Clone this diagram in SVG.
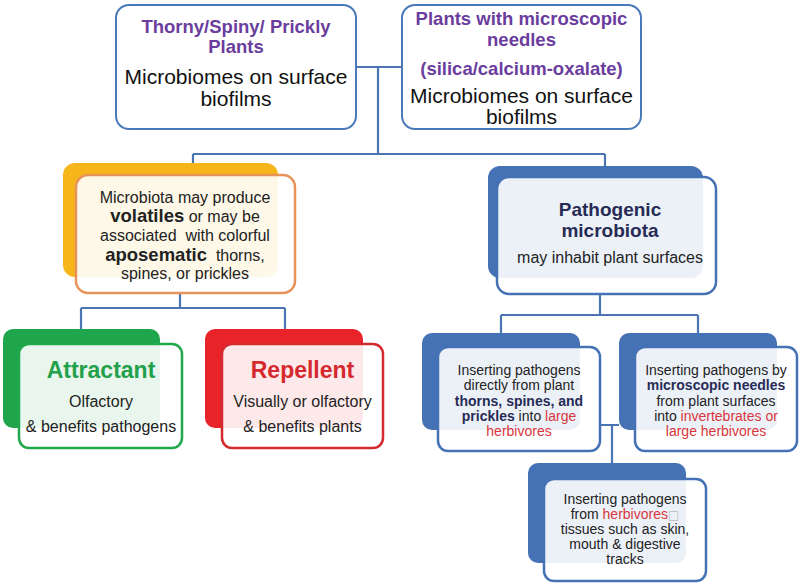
<svg xmlns="http://www.w3.org/2000/svg" width="800" height="583" viewBox="0 0 800 583">
<style>
text{font-family:"Liberation Sans",Arial,sans-serif;text-anchor:middle;fill:#222}
.top{fill:#fff;stroke:#4a78b8;stroke-width:2}
.front{fill:#fff;fill-opacity:0.9;stroke-width:2.5}
.conn{fill:none;stroke:#4a74b2;stroke-width:2.2}
.pur{font-weight:bold;font-size:18.5px;fill:#6a3d9e}
.big{font-size:21px;fill:#111}
.t16{font-size:16px}
.t14{font-size:14px}
.b{font-weight:bold}
.navy{font-weight:bold;fill:#272b55}
.red{fill:#d9363c}
</style>
<rect width="800" height="583" fill="#fff"/>
<g id="connectors" class="conn">
<path d="M356 67H402M378 67V154M193 154H605M193 154V163M605 154V166"/>
<path d="M180 293V308M81 308H285M81 308V329M285 308V329"/>
<path d="M600 294V315M501 315H698M501 315V333M698 315V333"/>
<path d="M600 425H619M612 425V463"/>
</g>
<g id="thorny">
<rect class="top" x="116" y="5" width="240" height="124" rx="13"/>
<text class="pur" x="236" y="33">Thorny/Spiny/ Prickly</text>
<text class="pur" x="236" y="53">Plants</text>
<text class="big" x="236" y="84">Microbiomes on surface</text>
<text class="big" x="236" y="106">biofilms</text>
</g>
<g id="needles">
<rect class="top" x="402" y="5" width="239" height="124" rx="13"/>
<text class="pur" x="521.5" y="25">Plants with microscopic</text>
<text class="pur" x="521.5" y="46">needles</text>
<text class="pur" x="521.5" y="75">(silica/calcium-oxalate)</text>
<text class="big" x="521.5" y="103">Microbiomes on surface</text>
<text class="big" x="521.5" y="124">biofilms</text>
</g>
<g id="volatiles">
<rect x="63" y="163" width="215" height="114" rx="12" fill="#f6b61a"/>
<rect class="front" x="76" y="175" width="219" height="118" rx="12" stroke="#e8935a"/>
<text class="t16" x="185" y="203">Microbiota may produce</text>
<text class="t16" x="185" y="222"><tspan class="b" font-size="18.5">volatiles</tspan> or may be</text>
<text class="t16" x="185" y="241" xml:space="preserve">associated  with colorful</text>
<text class="t16" x="185" y="261" xml:space="preserve"><tspan class="b" font-size="18.5">aposematic</tspan>  thorns,</text>
<text class="t16" x="185" y="279">spines, or prickles</text>
</g>
<g id="pathogenic">
<rect x="488" y="166" width="215" height="112" rx="12" fill="#4472b4"/>
<rect class="front" x="497" y="177" width="219" height="117" rx="12" stroke="#4472b4"/>
<text class="navy" font-size="19" x="610" y="216">Pathogenic</text>
<text class="navy" font-size="19" x="610" y="237">microbiota</text>
<text class="t16" x="610" y="263">may inhabit plant surfaces</text>
</g>
<g id="attractant">
<rect x="3" y="329" width="157" height="99" rx="10" fill="#1fa54b"/>
<rect class="front" x="19" y="344" width="163" height="104" rx="10" stroke="#22a84c"/>
<text class="b" font-size="23" fill="#22a04a" x="101" y="378" style="fill:#22a04a">Attractant</text>
<text class="t16" x="101" y="407">Olfactory</text>
<text class="t16" x="101" y="432">&amp; benefits pathogens</text>
</g>
<g id="repellent">
<rect x="205" y="329" width="158" height="99" rx="10" fill="#e8232a"/>
<rect class="front" x="222" y="344" width="161" height="104" rx="10" stroke="#d42a30"/>
<text class="b" font-size="23" x="302.5" y="378" style="fill:#d6292f">Repellent</text>
<text class="t16" x="302.5" y="407">Visually or olfactory</text>
<text class="t16" x="302.5" y="432">&amp; benefits plants</text>
</g>
<g id="thorns-insert">
<rect x="422" y="333" width="158" height="97" rx="10" fill="#4472b4"/>
<rect class="front" x="438" y="347" width="162" height="104" rx="10" stroke="#4472b4"/>
<text class="t14" x="519" y="375">Inserting pathogens</text>
<text class="t14" x="519" y="390">directly from plant</text>
<text class="t14 navy" x="519" y="406">thorns, spines, and</text>
<text class="t14" x="519" y="421"><tspan class="navy">prickles</tspan> into <tspan class="red">large</tspan></text>
<text class="t14 red" x="519" y="436">herbivores</text>
</g>
<g id="needles-insert">
<rect x="619" y="333" width="158" height="97" rx="10" fill="#4472b4"/>
<rect class="front" x="635" y="347" width="162" height="104" rx="10" stroke="#4472b4"/>
<text class="t14" x="716" y="375">Inserting pathogens by</text>
<text class="t14 navy" x="716" y="390">microscopic needles</text>
<text class="t14" x="716" y="406">from plant surfaces</text>
<text class="t14" x="716" y="421">into <tspan class="red">invertebrates or</tspan></text>
<text class="t14 red" x="716" y="436">large herbivores</text>
</g>
<g id="herbivores-insert">
<rect x="528" y="463" width="158" height="100" rx="10" fill="#4472b4"/>
<rect class="front" x="544" y="479" width="162" height="102" rx="10" stroke="#4472b4"/>
<text class="t14" x="625" y="504">Inserting pathogens</text>
<text class="t14" x="625" y="519">from <tspan class="red">herbivores</tspan><tspan style="fill:#bbb" font-family="DejaVu Sans" font-size="12">□</tspan></text>
<text class="t14" x="625" y="534">tissues such as skin,</text>
<text class="t14" x="625" y="549">mouth &amp; digestive</text>
<text class="t14" x="625" y="564">tracks</text>
</g>
</svg>
